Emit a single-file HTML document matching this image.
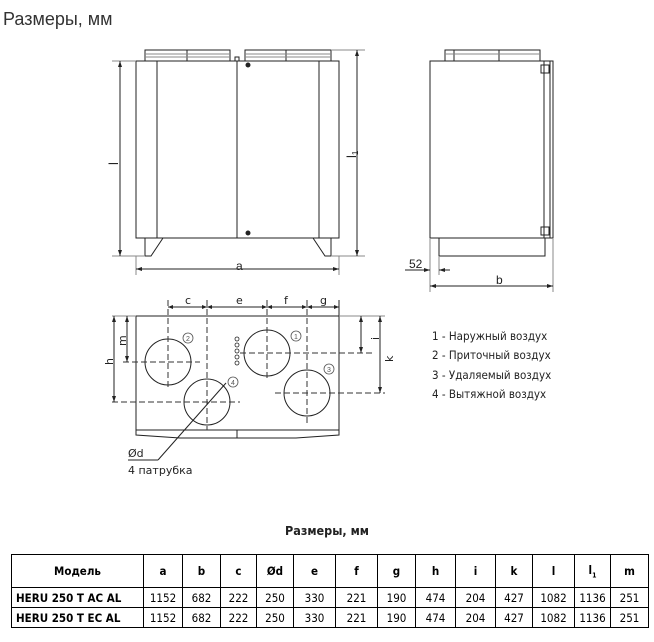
<!DOCTYPE html>
<html><head><meta charset="utf-8"><style>
body{margin:0;background:#fff;width:654px;height:642px;overflow:hidden;position:relative;font-family:"Liberation Sans",sans-serif}
.t{position:absolute;left:3px;top:9px;font-size:18px;color:#333}
table{position:absolute;left:11px;top:554px;border-collapse:collapse;font-family:"DejaVu Sans Condensed","DejaVu Sans",sans-serif;font-size:11.5px;color:#000}
td{border:1px solid #000;text-align:center;padding:0}
tr.h td{height:32px;font-weight:bold}
tr.r td{height:19px}
td.m{font-weight:bold;text-align:left;padding-left:4px}
</style></head><body>
<div class="t">Размеры, мм</div>
<svg width="654" height="642" style="position:absolute;left:0;top:0" font-family="Liberation Sans, sans-serif">
<g stroke="#222" fill="none" stroke-width="1">
<rect x="136" y="61" width="203" height="177"/>
<line x1="157" y1="61" x2="157" y2="238"/><line x1="237" y1="61" x2="237" y2="238"/><line x1="319" y1="61" x2="319" y2="238"/>
<rect x="145" y="50" width="85" height="11"/><rect x="245" y="50" width="86" height="11"/>
<line x1="187" y1="50" x2="187" y2="61"/><line x1="286" y1="50" x2="286" y2="61"/>
<line x1="145" y1="54" x2="230" y2="54" stroke="#888"/><line x1="145" y1="57" x2="230" y2="57" stroke="#888"/>
<line x1="245" y1="54" x2="331" y2="54" stroke="#888"/><line x1="245" y1="57" x2="331" y2="57" stroke="#888"/>
<rect x="235" y="57" width="4" height="4"/>
<circle cx="248" cy="65" r="2" fill="#222"/><circle cx="248" cy="233" r="2" fill="#222"/>
<path d="M145 238 V256 H151 L163 238"/><path d="M331 238 V256 H325 L313 238"/>
<line x1="112" y1="61" x2="136" y2="61" stroke="#888"/><line x1="112" y1="256" x2="145" y2="256" stroke="#888"/>
<line x1="120" y1="61" x2="120" y2="256"/>
<line x1="331" y1="50" x2="365" y2="50" stroke="#888"/><line x1="331" y1="256" x2="365" y2="256" stroke="#888"/>
<line x1="357" y1="50" x2="357" y2="256"/>
<line x1="136" y1="256" x2="136" y2="275" stroke="#888"/><line x1="339" y1="256" x2="339" y2="275" stroke="#888"/>
<line x1="136" y1="269" x2="339" y2="269"/>
<rect x="430" y="61" width="123" height="177"/>
<line x1="544" y1="61" x2="544" y2="238"/><line x1="550" y1="61" x2="550" y2="238"/>
<rect x="445" y="50" width="95" height="11"/><line x1="454" y1="50" x2="454" y2="61"/><line x1="499" y1="50" x2="499" y2="61"/>
<line x1="445" y1="54" x2="540" y2="54" stroke="#888"/>
<rect x="541" y="65" width="8" height="8"/><rect x="541" y="227" width="8" height="8"/>
<path d="M439 238 V256 H545 V238"/>
<line x1="430" y1="238" x2="430" y2="292" stroke="#888"/><line x1="439" y1="256" x2="439" y2="275" stroke="#888"/>
<line x1="553" y1="238" x2="553" y2="292" stroke="#888"/>
<line x1="405" y1="270" x2="430" y2="270"/><line x1="439" y1="270" x2="450" y2="270"/>
<line x1="430" y1="286" x2="553" y2="286"/>
<rect x="136" y="316" width="203" height="114"/>
<path d="M136 430 V435 L180 438 H296 L339 435 V430"/><line x1="237" y1="430" x2="237" y2="438"/>
<circle cx="168" cy="362" r="23"/><circle cx="207" cy="402" r="23"/><circle cx="267" cy="353" r="23"/><circle cx="307" cy="393" r="23"/>
<g stroke-dasharray="6,3" stroke="#333">
<line x1="168" y1="300" x2="168" y2="390"/><line x1="123" y1="362" x2="200" y2="362"/>
<line x1="207" y1="300" x2="207" y2="430"/><line x1="112" y1="402" x2="240" y2="402"/>
<line x1="267" y1="300" x2="267" y2="380"/><line x1="240" y1="353" x2="372" y2="353"/>
<line x1="307" y1="300" x2="307" y2="425"/><line x1="275" y1="393" x2="385" y2="393"/>
</g>
<line x1="339" y1="300" x2="339" y2="316"/>
<line x1="168" y1="307" x2="339" y2="307"/>
<line x1="112" y1="316" x2="136" y2="316" stroke="#888"/><line x1="339" y1="316" x2="385" y2="316" stroke="#888"/>
<line x1="114" y1="316" x2="114" y2="402"/><line x1="127" y1="316" x2="127" y2="362"/>
<line x1="361" y1="316" x2="361" y2="353"/><line x1="380" y1="316" x2="380" y2="393"/>
<line x1="226" y1="383" x2="158" y2="460"/><line x1="128" y1="460" x2="158" y2="460"/>
<g stroke-width="0.8"><circle cx="237" cy="339" r="2"/><circle cx="237" cy="345" r="2"/><circle cx="237" cy="351" r="2"/><circle cx="237" cy="357" r="2"/><circle cx="237" cy="363" r="2"/></g>
<g stroke="#555" stroke-width="0.8"><circle cx="188" cy="338" r="5"/><circle cx="296" cy="336" r="5"/><circle cx="329" cy="369" r="5"/><circle cx="233" cy="382" r="5"/></g>
</g>
<g font-size="7" fill="#555" text-anchor="middle"><text x="188" y="341">2</text><text x="296" y="339">1</text><text x="329" y="372">3</text><text x="233" y="385">4</text></g>
<g fill="#222" font-size="12">
<text x="236" y="270">a</text><text x="496" y="284">b</text>
<text x="409" y="268">52</text>
<text transform="translate(118,165) rotate(-90)" font-size="13">l</text>
<text transform="translate(356,158) rotate(-90)" font-size="13">l<tspan font-size="8" dy="2">1</tspan></text>
<text x="185" y="304" font-family="DejaVu Sans,sans-serif" font-size="11">c</text>
<text x="236" y="304" font-family="DejaVu Sans,sans-serif" font-size="11">e</text>
<text x="284" y="304" font-family="DejaVu Sans,sans-serif" font-size="11">f</text>
<text x="320" y="304" font-family="DejaVu Sans,sans-serif" font-size="11">g</text>
<g font-family="DejaVu Sans,sans-serif" font-size="11">
<text transform="translate(113,365) rotate(-90)">h</text>
<text transform="translate(126,346) rotate(-90)">m</text>
<text transform="translate(379,340) rotate(-90)">i</text>
<text transform="translate(393,362) rotate(-90)">k</text>
<text x="128" y="457">Ød</text>
<text x="128" y="474" font-size="11">4 патрубка</text>
</g>
<g font-family="DejaVu Sans Condensed,DejaVu Sans,sans-serif" font-size="11.5">
<text x="432" y="340">1 - Наружный воздух</text>
<text x="432" y="359">2 - Приточный воздух</text>
<text x="432" y="379">3 - Удаляемый воздух</text>
<text x="432" y="398">4 - Вытяжной воздух</text>
</g>
<text x="327" y="535" text-anchor="middle" font-family="DejaVu Sans Condensed,DejaVu Sans,sans-serif" font-weight="bold" font-size="12.5">Размеры, мм</text>
</g>
<g fill="#222">
<path d="M120 61 l-2 6 h4z M120 256 l-2 -6 h4z M357 50 l-2 6 h4z M357 256 l-2 -6 h4z M136 269 l6 -2 v4z M339 269 l-6 -2 v4z M430 286 l6 -2 v4z M553 286 l-6 -2 v4z M430 270 l-6 -2 v4z M439 270 l6 -2 v4z"/>
<path d="M114 316 l-2 6 h4z M114 402 l-2 -6 h4z M127 316 l-2 6 h4z M127 362 l-2 -6 h4z M361 316 l-2 6 h4z M361 353 l-2 -6 h4z M380 316 l-2 6 h4z M380 393 l-2 -6 h4z"/>
<path d="M168 307 l5 -2 v4z M207 307 l-5 -2 v4z M207 307 l5 -2 v4z M267 307 l-5 -2 v4z M267 307 l5 -2 v4z M307 307 l-5 -2 v4z M307 307 l5 -2 v4z M339 307 l-5 -2 v4z"/>
</g>
</svg>
<table>
<tr class="h"><td style="width:131px">Модель</td><td style="width:38px">a</td><td style="width:37px">b</td><td style="width:35px">c</td><td style="width:36px">Ød</td><td style="width:41px">e</td><td style="width:41px">f</td><td style="width:37px">g</td><td style="width:39px">h</td><td style="width:39px">i</td><td style="width:36px">k</td><td style="width:41px">l</td><td style="width:35px">l<sub style="font-size:7px">1</sub></td><td style="width:37px">m</td></tr>
<tr class="r"><td class="m">HERU 250 T AC AL</td><td>1152</td><td>682</td><td>222</td><td>250</td><td>330</td><td>221</td><td>190</td><td>474</td><td>204</td><td>427</td><td>1082</td><td>1136</td><td>251</td></tr>
<tr class="r"><td class="m">HERU 250 T EC AL</td><td>1152</td><td>682</td><td>222</td><td>250</td><td>330</td><td>221</td><td>190</td><td>474</td><td>204</td><td>427</td><td>1082</td><td>1136</td><td>251</td></tr>
</table>
</body></html>
